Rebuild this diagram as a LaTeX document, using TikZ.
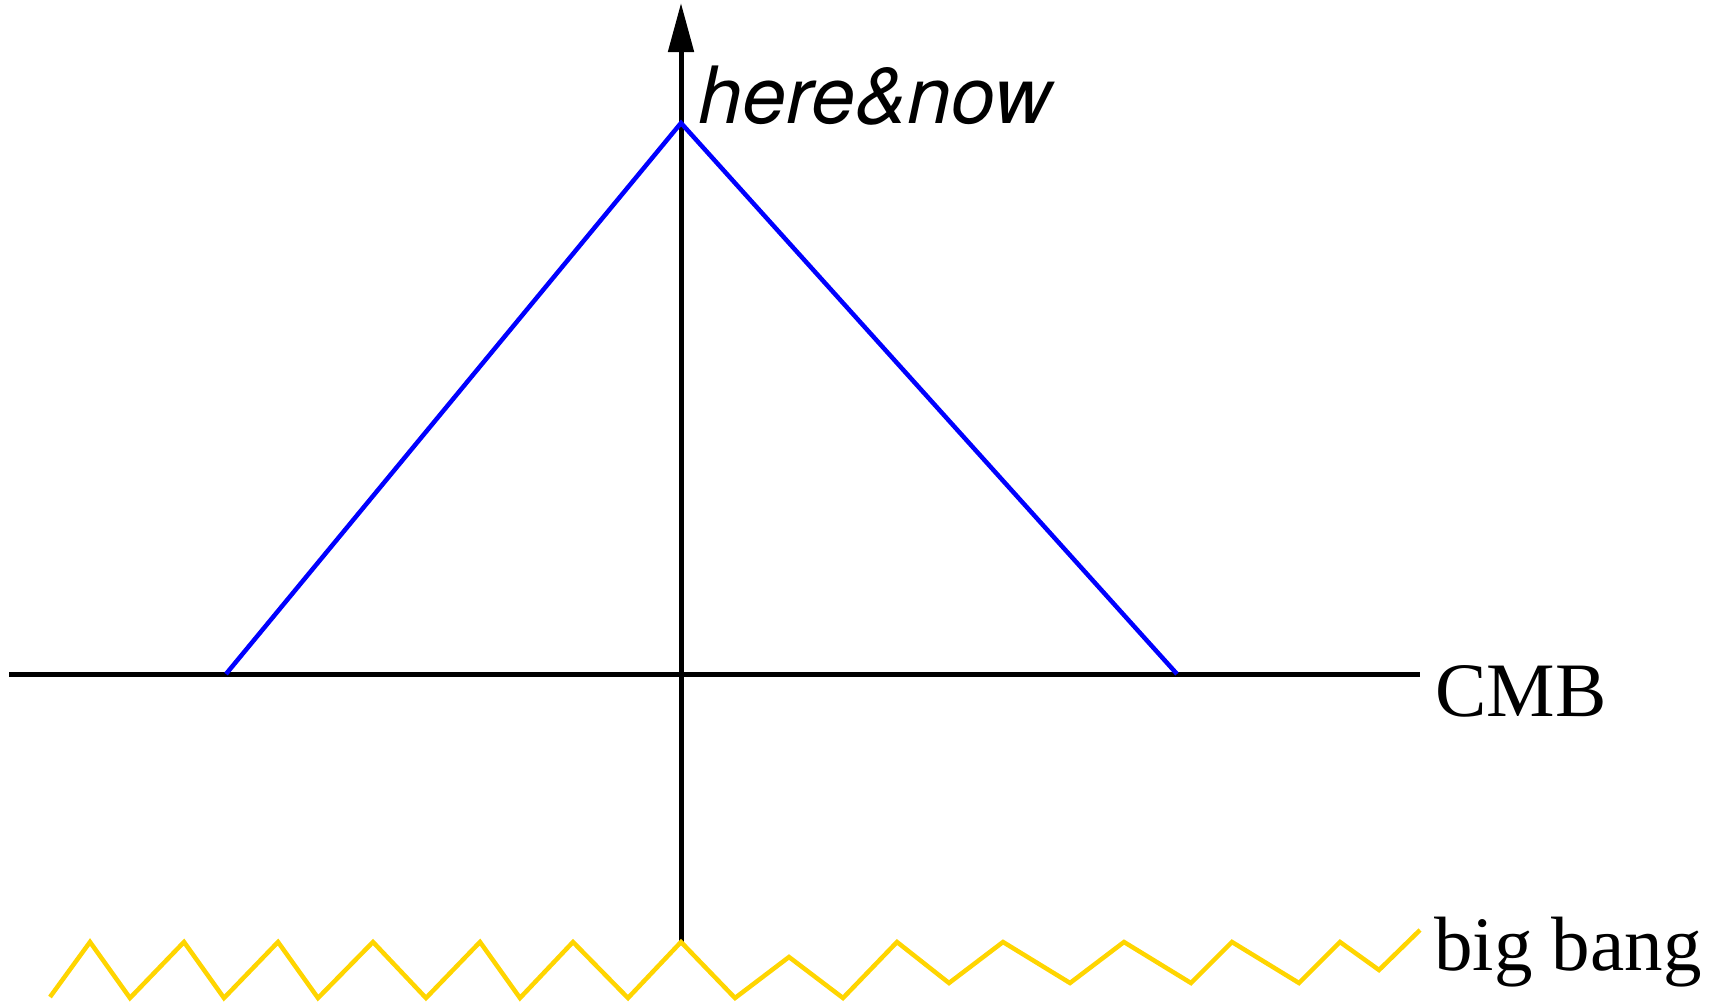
\documentclass[tikz,border=0pt]{standalone}
\usepackage{fontspec}
\setmainfont{Liberation Serif}
\newfontfamily\helv{TeX Gyre Heros}
\usetikzlibrary{arrows.meta}
\definecolor{bbgold}{RGB}{255,213,0}
\tikzset{
  axisline/.style={line width=5pt, black},
  coneline/.style={line width=4.5pt, blue},
  bangline/.style={line width=4.5pt, bbgold},
  bigtext/.style={inner sep=0pt, anchor=base west, font=\fontsize{77}{77}\selectfont},
}
\begin{document}
\begin{tikzpicture}[x=1pt,y=-1pt]
\useasboundingbox (0,0) rectangle (1725,1002);
% coordinates
\coordinate (top) at (681,3);
\coordinate (bottom) at (681,942);
\coordinate (apex) at (681,123);
\coordinate (cmbL) at (9,674);
\coordinate (cmbR) at (1420,674);
\coordinate (footL) at (226,674);
\coordinate (footR) at (1177,674);
% axes
\draw[axisline] (cmbL) -- (cmbR);
\draw[axisline, -{Triangle[length=49pt,width=25pt]}] (bottom) -- (top);
% light cone
\draw[coneline] (footL) -- (apex) -- (footR);
% big bang zigzag
\draw[bangline] (50,997) -- (90,942) -- (130,998) -- (184,942) -- (224,998) -- (278,942) -- (318,998) -- (373,942) -- (426,998) -- (480,942) -- (520,998) -- (573,942) -- (628,998) -- (bottom) -- (735,998) -- (789,957) -- (843,998) -- (897,942) -- (949,983) -- (1003,942) -- (1070,983) -- (1124,942) -- (1191,983) -- (1232,942) -- (1299,983) -- (1340,942) -- (1379,970) -- (1420,930);
% labels
\node[bigtext, font=\helv\itshape\fontsize{79}{79}\selectfont] (here) at (698,123) {here\&now};
\node[bigtext] (cmb) at (1435,716) {CMB};
\node[bigtext] (bang) at (1434,970) {big bang};
\end{tikzpicture}
\end{document}
